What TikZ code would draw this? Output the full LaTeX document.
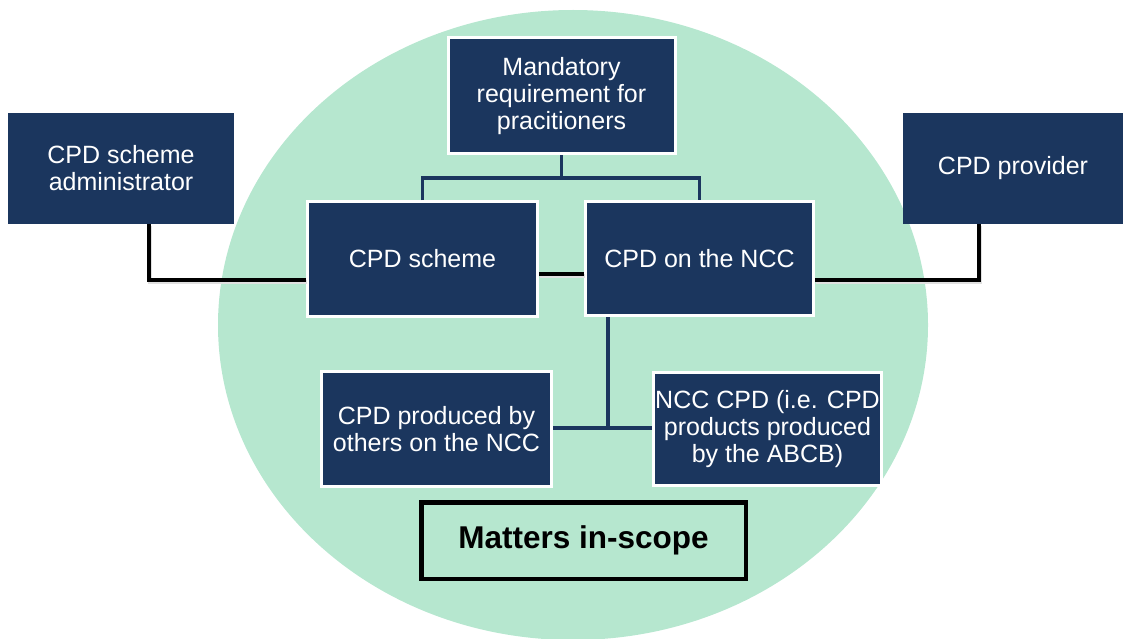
\documentclass[tikz,border=0pt]{standalone}
\usepackage{fontspec}
\setmainfont{Liberation Sans}
\definecolor{navy}{RGB}{27,54,94}
\definecolor{scopegreen}{RGB}{182,231,207}
\tikzset{
  box/.style={rectangle, fill=navy, text=white, align=center, inner sep=0pt,
    font=\fontsize{25}{27}\selectfont},
  inbox/.style={box, draw=white, line width=3pt},
  outbox/.style={box, draw=none},
  navyline/.style={draw=navy, line width=3.3pt},
  blackline/.style={draw=black, line width=3.5pt,
    preaction={draw=black!12, line width=3.5pt, transform canvas={xshift=1pt,yshift=-2pt}}},
}
\begin{document}
\begin{tikzpicture}[x=1pt,y=-1pt]
\useasboundingbox (0,0) rectangle (1123,639);
% in-scope area
\fill[scopegreen] (573,325) ellipse [x radius=355, y radius=315];

% boxes
\node[inbox, minimum width=227pt, minimum height=116pt] (top) at (561.5,96)
  {Mandatory\\requirement for\\pracitioners};
\node[outbox, minimum width=226pt, minimum height=111pt] (admin) at (121,168.5)
  {CPD scheme\\administrator};
\node[outbox, minimum width=220pt, minimum height=111pt] (provider) at (1013,168.5)
  {CPD provider};
\node[inbox, minimum width=230pt, minimum height=115pt] (scheme) at (422.5,259)
  {CPD scheme};
\node[inbox, minimum width=228pt, minimum height=114pt] (ncc) at (699.5,258.5)
  {CPD on the NCC};
\node[inbox, minimum width=230pt, minimum height=115pt] (others) at (436.5,429)
  {CPD produced by\\others on the NCC};
\node[inbox, minimum width=228pt, minimum height=113pt] (nccpd) at (767.5,429)
  {NCC CPD (i.e. CPD\\products produced\\by the ABCB)};
\node[draw=black, line width=4.5pt, minimum width=324.5pt, minimum height=76.5pt,
  inner sep=0pt, font=\fontsize{31.5}{33}\selectfont\bfseries] (scope) at (583.5,540.5)
  {Matters in-scope};

% junction points
\coordinate (split) at (561.5,178);
\coordinate (mid) at (561,274);
\coordinate (adm) at (149,280);
\coordinate (prov) at (979,280);
\coordinate (fork) at (608,428);

% connectors
\draw[navyline] (top.south) -- (split);
\draw[navyline] (scheme.north) |- (split) -| (ncc.north);
\draw[navyline] (ncc.south -| fork) -- (fork);
\draw[navyline] (others.east |- fork) -- (nccpd.west |- fork);
\draw[blackline] (scheme.east |- mid) -- (ncc.west |- mid);
\draw[blackline] (admin.south -| adm) -- (adm) -- (scheme.west |- adm);
\draw[blackline] (provider.south -| prov) -- (prov) -- (ncc.east |- prov);
\end{tikzpicture}
\end{document}
